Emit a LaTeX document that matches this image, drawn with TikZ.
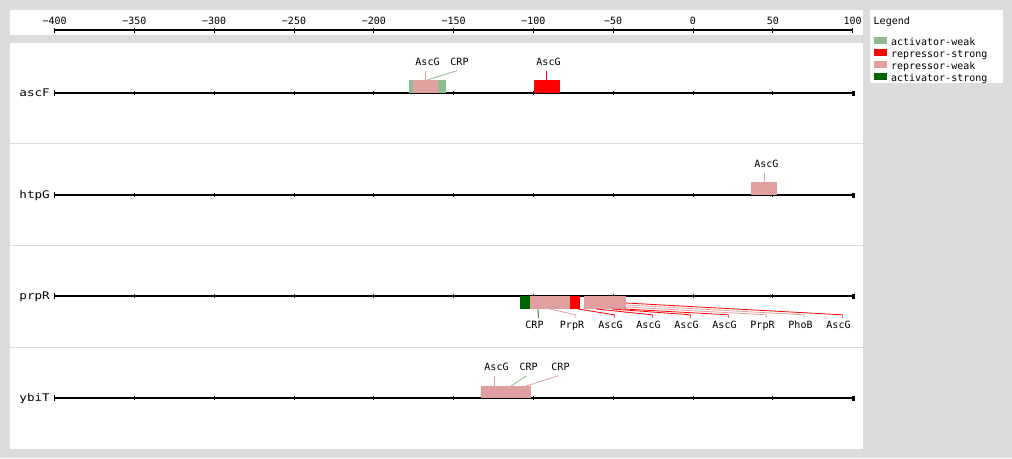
\documentclass[tikz,border=0pt]{standalone}
\usepackage{fontspec}
\setmonofont{DejaVu Sans Mono}
\newfontfamily\genefont[FakeStretch=1.2]{DejaVu Sans Mono}
\usetikzlibrary{positioning}

\definecolor{actweak}{HTML}{8FBC8F}
\definecolor{repstrong}{HTML}{FF0000}
\definecolor{repweak}{HTML}{E0A0A0}
\definecolor{actstrong}{HTML}{006400}
\definecolor{panelbg}{HTML}{DCDCDC}

\tikzset{
    lbl/.style={font=\ttfamily\fontsize{10}{12}\selectfont, inner sep=2.5pt,
        text height=7.5pt, text depth=2.5pt},
    gene/.style={font=\genefont\fontsize{10.5}{12}\selectfont, inner sep=0pt,
        anchor=base east},
    keybox/.style={fill=#1, inner sep=0pt, minimum width=12.7pt, minimum height=7.5pt},
    lead/.style={draw=#1, line width=0.8pt},
    axisline/.style={line width=1.2pt},
}

\begin{document}
\begin{tikzpicture}[x=1pt, y=-1pt]
    % Panels
    \fill[panelbg] (0,0) rectangle (1012,458);
    \useasboundingbox (0,0) rectangle (1012,458);
    \fill[white] (10,10) rectangle (863,35);
    \fill[white] (870,10) rectangle (1003,83);
    \fill[white] (10,43) rectangle (863,449);
    \foreach \y in {143.5,245.5,347.5}
        \draw[panelbg, line width=1.2pt] (10,\y) -- (863,\y);

    % Scale
    \draw[axisline] (54,30) -- (852,30);
    \foreach \v/\t [count=\i] in {-400/−400,-350/−350,-300/−300,-250/−250,-200/−200,
            -150/−150,-100/−100,-50/−50,0/0,50/50,100/100} {
        \draw[line width=0.8pt] ({693+1.596*\v},28) -- ({693+1.596*\v},32.5);
        \node[lbl, anchor=base] (tick\i) at ({693+1.596*\v},24) {\t};
    }

    % Genes
    \foreach \g/\y in {ascF/93,htpG/195,prpR/296,ybiT/398} {
        \node[gene] (\g) at (50,\y+3.7) {\g};
        \draw[axisline] (54,\y) -- (852,\y);
        \draw[line width=0.8pt] (54,\y-3) -- (54,\y+3);
        \foreach \v in {-350,-300,...,50}
            \draw[line width=0.8pt] ({693+1.596*\v},\y-2) -- ({693+1.596*\v},\y+2);
        \fill (852,\y-2.5) rectangle (854.5,\y+2.5);
    }

    % ascF sites
    \fill[actweak] (409,80) rectangle (446,93);
    \fill[repweak] (413,80) rectangle (438,93);
    \fill[repstrong] (534,80) rectangle (560,93);
    \coordinate (s1) at (425.3,80);
    \coordinate (s2) at (427,80);
    \coordinate (s3) at (546.5,80);
    \node[lbl, anchor=base] (a1) at (427.5,65.3) {AscG};
    \node[lbl, anchor=base] (a2) at (459.5,65.3) {CRP};
    \node[lbl, anchor=base] (a3) at (548.5,65.3) {AscG};
    \draw[lead=repweak] (s1) -- (s1 |- a1.south);
    \draw[lead=actweak] (s2) -- ([xshift=-2pt]a2.south);
    \draw[lead=repstrong] (s3) -- (s3 |- a3.south);

    % htpG sites
    \fill[repweak] (751,182) rectangle (777,195);
    \coordinate (s4) at (764.3,182);
    \node[lbl, anchor=base] (a4) at (766.3,167.3) {AscG};
    \draw[lead=repweak] (s4) -- (s4 |- a4.south);

    % prpR sites
    \fill[actstrong] (520,296) rectangle (530,309);
    \fill[repweak] (530,296) rectangle (570,309);
    \fill[repstrong] (570,296) rectangle (580,309);
    \fill[repweak] (584,296) rectangle (626,309);
    \foreach \t/\x/\c/\sx/\sy [count=\i] in {CRP/534.5/actstrong/538/309,
            PrpR/572/repweak/550/309, AscG/610.5/repstrong/578/309,
            AscG/648.5/repstrong/596/309, AscG/686.5/repstrong/612/309,
            AscG/724.5/repstrong/624/309, PrpR/762.5/repweak/626/307,
            PhoB/800.5/repweak/626/305, AscG/838.5/repstrong/626/303} {
        \coordinate (p\i) at (\sx,\sy);
        \node[lbl, anchor=base] (b\i) at (\x,328) {\t};
        \draw[lead=\c] (p\i) -- ([xshift=3.7pt,yshift=3pt]b\i.north)
            -- ([xshift=3.7pt]b\i.north);
    }

    % ybiT sites
    \fill[repweak] (481,386) rectangle (531,398);
    \coordinate (q1) at (494.3,386);
    \coordinate (q2) at (511,386);
    \coordinate (q3) at (526,386);
    \node[lbl, anchor=base] (c1) at (496.5,370.5) {AscG};
    \node[lbl, anchor=base] (c2) at (528.7,370.5) {CRP};
    \node[lbl, anchor=base] (c3) at (560.5,370.5) {CRP};
    \draw[lead=repweak] (q1) -- (q1 |- c1.south);
    \draw[lead=actweak] (q2) -- ([xshift=-2pt]c2.south);
    \draw[lead=repweak] (q3) -- ([xshift=-2pt]c3.south);

    % Legend
    \node[lbl, anchor=base west, inner xsep=0pt] (legend) at (873.5,24) {Legend};
    \foreach \c/\t [count=\i] in {actweak/activator-weak, repstrong/repressor-strong,
            repweak/repressor-weak, actstrong/activator-strong} {
        \node[keybox=\c] (k\i) at (880.3,{28.3+12*\i}) {};
        \node[lbl, anchor=base west, inner xsep=0pt] (kt\i)
            at ([xshift=4pt,yshift=-5pt]k\i.east) {\t};
    }
\end{tikzpicture}
\end{document}
